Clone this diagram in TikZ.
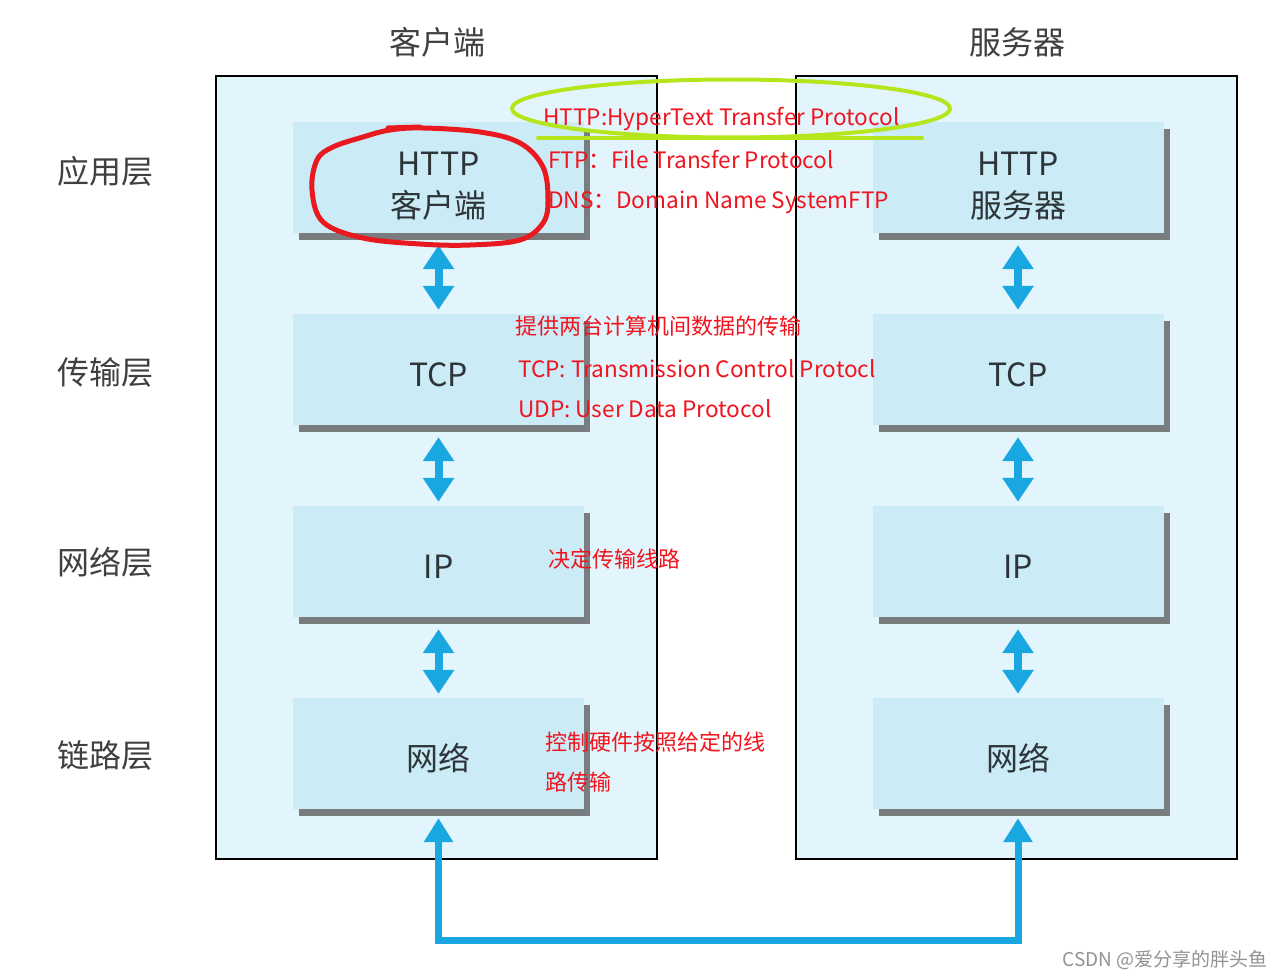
\documentclass[tikz,border=0pt]{standalone}
\usepackage{fontspec}
\setmainfont{Noto Sans CJK SC}
\usetikzlibrary{shadows,arrows.meta}
\definecolor{panelc}{HTML}{E3F5FC}
\definecolor{boxc}{HTML}{CBEBF7}
\definecolor{shadowc}{HTML}{7A7D80}
\definecolor{bluec}{HTML}{19A7E2}
\definecolor{redc}{HTML}{F0141E}
\definecolor{loopc}{HTML}{E8191F}
\definecolor{greenc}{HTML}{B5E61D}
\definecolor{labelc}{HTML}{404040}
\definecolor{boxtext}{HTML}{2E3538}
\newcommand\lowr[2][5pt]{\raisebox{-#1}[\height][\depth]{#2}}
\begin{document}
\begin{tikzpicture}[x=1pt,y=-1pt,
  panel/.style={draw=black,line width=1.5pt,fill=panelc},
  layerbox/.style={fill=boxc,minimum width=291pt,minimum height=111pt,inner sep=0pt,
    drop shadow={shadow xshift=6pt,shadow yshift=-7pt,fill=shadowc,opacity=1},
    font=\fontsize{32}{38}\selectfont,text=boxtext,align=center},
  lbl/.style={font=\fontsize{32}{38}\selectfont,text=labelc,inner sep=0pt},
  note/.style={font=\fontsize{22.6}{26}\selectfont,text=redc,inner sep=0pt,anchor=base west},
  cnote/.style={note,font=\fontsize{22}{26}\selectfont},
  dbl/.style={draw=bluec,line width=8pt,{Triangle[width=30pt,length=24pt]}-{Triangle[width=30pt,length=24pt]}},
  conn/.style={draw=bluec,line width=7pt,line join=miter,{Triangle[width=28pt,length=24pt]}-{Triangle[width=28pt,length=24pt]}}
]
\useasboundingbox (0,0) rectangle (1287,979);
\fill[white] (0,0) rectangle (1287,979);
% panels
\draw[panel] (216,76) rectangle (657,859);
\draw[panel] (796,76) rectangle (1237,859);
% titles
\node[lbl] (tc) at (437,42) {客户端};
\node[lbl] (ts) at (1017,42) {服务器};
\node[lbl] (l1) at (105,171) {应用层};
\node[lbl] (l2) at (105,372) {传输层};
\node[lbl] (l3) at (105,562) {网络层};
\node[lbl] (l4) at (105,755) {链路层};
% boxes
\node[layerbox] (c1) at (438.5,177.5) {\lowr[9pt]{HTTP}\\[4pt]\lowr[9pt]{客户端}};
\node[layerbox] (c2) at (438.5,369.5) {\lowr{TCP}};
\node[layerbox] (c3) at (438.5,561.5) {\lowr{IP}};
\node[layerbox] (c4) at (438.5,753.5) {\lowr{网络}};
\node[layerbox] (s1) at (1018,177.5) {\lowr[9pt]{HTTP}\\[4pt]\lowr[9pt]{服务器}};
\node[layerbox] (s2) at (1018,369.5) {\lowr{TCP}};
\node[layerbox] (s3) at (1018,561.5) {\lowr{IP}};
\node[layerbox] (s4) at (1018,753.5) {\lowr{网络}};
% double arrows
\foreach \a/\b in {c1/c2,c2/c3,c3/c4,s1/s2,s2/s3,s3/s4}{
  \draw[dbl] ([yshift=-12pt]\a.south) -- ([yshift=4pt]\b.north);
}
% bottom connector
\coordinate (bus) at (700,940);
\draw[conn] ([yshift=-9pt]c4.south) |- (bus) -| ([yshift=-9pt]s4.south);
% red notes
\node[note] (n1) at (543,125) {HTTP:HyperText Transfer Protocol};
\node[note] (n2) at (548,168) {FTP：File Transfer Protocol};
\node[note] (n3) at (548,208) {DNS：Domain Name SystemFTP};
\node[cnote] (n4) at (515,334) {提供两台计算机间数据的传输};
\node[note] (n5) at (518,377) {TCP: Transmission Control Protocl};
\node[note] (n6) at (518,417) {UDP: User Data Protocol};
\node[cnote] (n7) at (548,567) {决定传输线路};
\node[cnote] (n8) at (545,750) {控制硬件按照给定的线};
\node[cnote] (n9) at (545,790) {路传输};
% green ellipse
\draw[greenc,line width=4pt] (731,108.5) ellipse [x radius=219pt, y radius=29pt];
\draw[greenc,line width=4pt,line cap=round] (538,138) -- (922,138);
% red loop
\draw[loopc,line width=5pt] plot[smooth cycle,tension=0.6] coordinates {
  (423,128) (480,132) (520,143) (543,167) (548,200) (543,223) (520,240)
  (470,245) (420,244) (363,238) (323,222) (312,190) (317,160) (333,147) (363,137) (390,130)};
\draw[loopc,line width=5pt,line cap=round] (388,128) -- (420,127);
% watermark
\node[font=\fontsize{19}{22}\selectfont,text=gray!85,inner sep=0pt] (wm) at (1165,960) {CSDN @爱分享的胖头鱼};
\end{tikzpicture}
\end{document}
